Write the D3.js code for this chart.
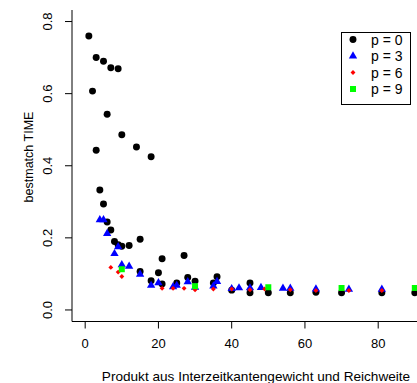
<!DOCTYPE html>
<html>
<head>
<meta charset="utf-8">
<script src="https://cdn.jsdelivr.net/npm/d3@7"></script>
<style>
  body { margin: 0; background: #fff; }
  svg text { font-family: "Liberation Sans", Arial, sans-serif; fill: #000; }
</style>
</head>
<body>
<div id="chart"></div>
<script>
var width = 417,
    height = 383;

// series
var p0X = [1, 2, 3, 3, 4, 5, 5, 6, 6, 7, 7, 8, 9, 9, 10, 10, 12, 14, 15, 15, 18, 18, 20, 21, 21, 25, 27, 28, 30, 35, 36, 40, 45, 45, 50, 56, 63, 70, 81, 90];
var p0Y = [0.760, 0.607, 0.700, 0.443, 0.333, 0.690, 0.294, 0.543, 0.244, 0.672, 0.222, 0.190, 0.669, 0.181, 0.486, 0.177, 0.179, 0.452, 0.196, 0.107, 0.425, 0.081, 0.103, 0.142, 0.072, 0.075, 0.151, 0.090, 0.080, 0.075, 0.092, 0.055, 0.075, 0.048, 0.048, 0.048, 0.049, 0.048, 0.048, 0.048];

var p3X = [4, 5, 6, 8, 9, 10, 12, 15, 18, 20, 24, 25, 28, 30, 35, 36, 40, 42, 45, 48, 54, 56, 63, 72, 81];
var p3Y = [0.250, 0.250, 0.212, 0.156, 0.175, 0.125, 0.121, 0.099, 0.068, 0.075, 0.064, 0.068, 0.078, 0.063, 0.066, 0.079, 0.059, 0.061, 0.061, 0.062, 0.060, 0.060, 0.058, 0.057, 0.057];

var p6X = [7, 9, 10, 21, 24, 27, 30, 35, 40, 45, 49, 56, 63, 72, 81];
var p6Y = [0.118, 0.105, 0.093, 0.060, 0.060, 0.060, 0.056, 0.058, 0.058, 0.056, 0.058, 0.056, 0.054, 0.054, 0.054];

var p9X = [10, 30, 50, 70, 90];
var p9Y = [0.113, 0.066, 0.063, 0.061, 0.061];

var xTicks = [0, 20, 40, 60, 80];
var yTicks = [0.0, 0.2, 0.4, 0.6, 0.8];
var legendLabels = ["p = 0", "p = 3", "p = 6", "p = 9"];

var xLabel = "Produkt aus Interzeitkantengewicht und Reichweite";
var yLabel = "bestmatch TIME";

// plot region (R style, 4% padding on xlim = c(0,90), ylim = c(0,0.8))
var plotL = 72, plotR = 428, plotT = 10, plotB = 321.5;

var x = d3.scaleLinear().domain([-3.6, 93.6]).range([plotL, plotR]);
var y = d3.scaleLinear().domain([-0.032, 0.832]).range([plotB, plotT]);

var svg = d3.select("#chart").append("svg")
    .attr("width", width)
    .attr("height", height);

// L shaped box
svg.append("path")
  .attr("d", "M" + plotL + "," + plotT + "V" + plotB + "H" + plotR)
  .attr("fill", "none")
  .attr("stroke", "#000")
  .attr("stroke-width", 1);

// ticks
svg.selectAll(".xtick")
  .data(xTicks).enter()
  .append("line")
  .attr("x1", function(d){ return x(d); })
  .attr("x2", function(d){ return x(d); })
  .attr("y1", plotB)
  .attr("y2", plotB + 7)
  .attr("stroke", "#000");

svg.selectAll(".xlab")
  .data(xTicks).enter()
  .append("text")
  .attr("x", function(d){ return x(d); })
  .attr("y", 348)
  .attr("text-anchor", "middle")
  .style("font-size", "13px")
  .text(function(d){ return d; });

svg.selectAll(".ytick")
  .data(yTicks).enter()
  .append("line")
  .attr("x1", plotL - 7)
  .attr("x2", plotL)
  .attr("y1", function(d){ return y(d); })
  .attr("y2", function(d){ return y(d); })
  .attr("stroke", "#000");

svg.selectAll(".ylab")
  .data(yTicks).enter()
  .append("text")
  .attr("transform", function(d){ return "translate(52," + y(d) + ") rotate(-90)"; })
  .attr("text-anchor", "middle")
  .style("font-size", "13px")
  .text(function(d){ return d3.format(".1f")(d); });

// axis titles
svg.append("text")
  .attr("x", 256)
  .attr("y", 381)
  .attr("text-anchor", "middle")
  .style("font-size", "13.6px")
  .text(xLabel);

svg.append("text")
  .attr("transform", "translate(33,157) rotate(-90)")
  .attr("text-anchor", "middle")
  .style("font-size", "12.5px")
  .text(yLabel);

/* markers */
var series = [
  { xs: p0X, ys: p0Y, type: d3.symbolCircle, size: 38, color: "#000000", rot: 0 },
  { xs: p3X, ys: p3Y, type: d3.symbolTriangle, size: 30, color: "#0000ff", rot: 0 },
  { xs: p6X, ys: p6Y, type: d3.symbolSquare, size: 12, color: "#ff0000", rot: 45 },
  { xs: p9X, ys: p9Y, type: d3.symbolSquare, size: 36, color: "#00ff00", rot: 0 }
];

var plot = svg.append("g");

series.forEach(function(s){
  var pts = s.xs.map(function(v, i){ return [v, s.ys[i]]; });
  plot.selectAll(null)
    .data(pts).enter()
    .append("path")
    .attr("d", d3.symbol().type(s.type).size(s.size))
    .attr("transform", function(d){
      return "translate(" + x(d[0]) + "," + y(d[1]) + ") rotate(" + s.rot + ")";
    })
    .attr("fill", s.color);
});

/* legend */
var legend = svg.append("g");
legend.append("rect")
  .attr("x", 341.5)
  .attr("y", 32.5)
  .attr("width", 69)
  .attr("height", 72)
  .attr("fill", "#fff")
  .attr("stroke", "#000");

var rowY = d3.scalePoint().domain(legendLabels).range([39.5, 89]);

legendLabels.forEach(function(lab, i){
  var s = series[i];
  legend.append("path")
    .attr("d", d3.symbol().type(s.type).size(s.size))
    .attr("transform", "translate(353," + rowY(lab) + ") rotate(" + s.rot + ")")
    .attr("fill", s.color);
  legend.append("text")
    .attr("x", 371)
    .attr("y", rowY(lab) + 5)
    .style("font-size", "14px")
    .text(lab);
});
</script>
</body>
</html>
